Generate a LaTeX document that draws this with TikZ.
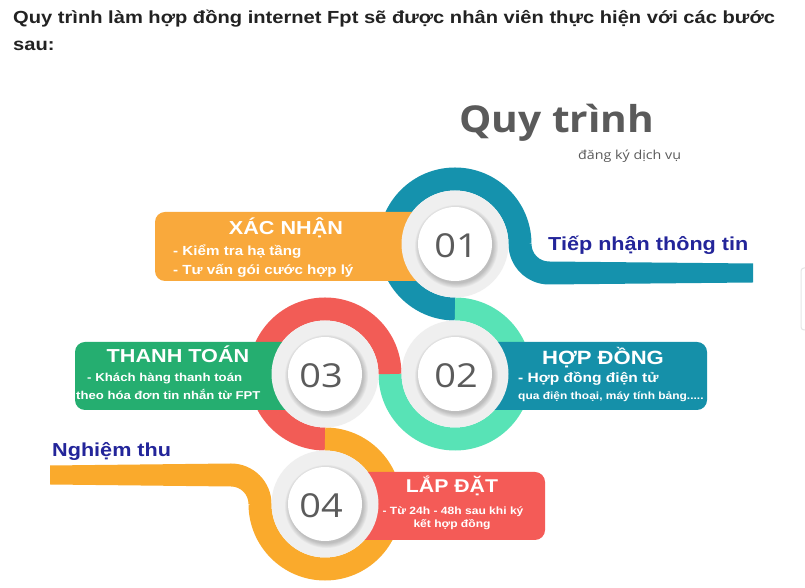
\documentclass[tikz,border=0pt]{standalone}
\usepackage{fontspec}
\setmainfont{Liberation Sans}[FakeStretch=1.15]
\newfontfamily\osans{Open Sans}[FakeStretch=1.15]
\newfontfamily\otitle{Open Sans}[FakeStretch=1.10]
\usetikzlibrary{calc}
\definecolor{tealc}{HTML}{1592AD}
\definecolor{mintc}{HTML}{58E3B6}
\definecolor{redc}{HTML}{F25C56}
\definecolor{orc}{HTML}{FAAA2C}
\definecolor{boxor}{HTML}{F9A93C}
\definecolor{boxgreen}{HTML}{25AE70}
\definecolor{boxteal}{HTML}{1590A9}
\definecolor{boxred}{HTML}{F45B57}
\definecolor{diskgrey}{HTML}{EFEFEF}
\definecolor{numgrey}{HTML}{5B5B5B}
\definecolor{darkblue}{HTML}{23259A}
\definecolor{titlegrey}{HTML}{5A5A5A}
\definecolor{toptext}{HTML}{222222}
\tikzset{
  ring/.style={line width=23pt, line cap=butt},
  stepbox/.style={rounded corners=10pt},
  boxtitle/.style={text=white, font=\bfseries\fontsize{18.8}{20}\selectfont, anchor=base, inner sep=0pt},
  boxline/.style={text=white, font=\bfseries\fontsize{13.2}{14}\selectfont, anchor=base west, inner sep=0pt},
  stepnum/.style={text=numgrey, font=\osans\fontsize{33}{33}\selectfont, inner sep=0pt},
  bluelabel/.style={text=darkblue, font=\bfseries\fontsize{18.8}{20}\selectfont, anchor=base west, inner sep=0pt},
  toplabel/.style={text=toptext, font=\bfseries\fontsize{17.5}{20}\selectfont, anchor=base west, inner sep=0pt},
}
\newcommand\mkdisk[1]{%
  \fill[diskgrey] (#1) circle (53.5);
  \foreach \k in {0,...,5}{\fill[black, opacity=0.035] ($(#1)+(1.5,-2.5)$) circle (37+\k*0.9);}
  \fill[white] (#1) circle (37);
}
\begin{document}
\begin{tikzpicture}[x=1pt,y=1pt]
\path[use as bounding box] (0,0) rectangle (805,588);
\fill[white] (0,0) rectangle (805,588);

\coordinate (c1) at (455,344);
\coordinate (c2) at (455,214);
\coordinate (c3) at (325,214);
\coordinate (c4) at (325,84);

% snake: teal tail with bend
\fill[tealc] (508.5,344) arc[start angle=180, end angle=270, radius=40.5]
  -- (753,305.5) -- (753,324.5) -- (549,326.5)
  arc[start angle=270, end angle=180, radius=17.5] -- cycle;
% rings
\draw[ring, tealc] ($(c1)+(65,0)$) arc[start angle=0, end angle=270, radius=65];
\draw[ring, mintc] ($(c2)+(0,65)$) arc[start angle=90, end angle=-180, radius=65];
\draw[ring, redc] ($(c3)+(65,0)$) arc[start angle=0, end angle=270, radius=65];
\draw[ring, orc] ($(c4)+(0,65)$) arc[start angle=90, end angle=-180, radius=65];
% orange tail with bend
\fill[orc] (248.5,84) arc[start angle=0, end angle=90, radius=17.5]
  -- (50,103.5) -- (50,122.5) -- (231,124.5)
  arc[start angle=90, end angle=0, radius=40.5] -- cycle;

% boxes
\fill[boxor, stepbox] (155,307) rectangle (440,376);
\fill[boxgreen, stepbox] (75,178) rectangle (310,246);
\fill[boxteal, stepbox] (440,178) rectangle (707,246);
\fill[boxred, stepbox] (340,48) rectangle (545,116);

% disks
\mkdisk{c1}
\mkdisk{c2}
\mkdisk{c3}
\mkdisk{c4}

% numbers
\node[stepnum] (n1) at ($(c1)+(1,-2)$) {01};
\node[stepnum] (n2) at ($(c2)+(1,-2)$) {02};
\node[stepnum] (n3) at ($(c3)+(-4,-2)$) {03};
\node[stepnum] (n4) at ($(c4)+(-4,-2)$) {04};

% box texts
\node[boxtitle] (t1) at (286,353) {XÁC NHẬN};
\node[boxline] (t1a) at (173,332) {- Kiểm tra hạ tầng};
\node[boxline] (t1b) at (173,313) {- Tư vấn gói cước hợp lý};

\node[boxtitle] (t3) at (178,225) {THANH TOÁN};
\node[boxline, font=\bfseries\fontsize{11.5}{13}\selectfont] (t3a) at (87,206) {- Khách hàng thanh toán};
\node[boxline, font=\bfseries\fontsize{11.4}{13}\selectfont] (t3b) at (76,188) {theo hóa đơn tin nhắn từ FPT};

\node[boxtitle, font=\bfseries\fontsize{19.2}{20}\selectfont] (t2) at (603,223) {HỢP ĐỒNG};
\node[boxline, font=\bfseries\fontsize{13.5}{14}\selectfont] (t2a) at (518,205) {- Hợp đồng điện tử};
\node[boxline, font=\bfseries\fontsize{10.4}{12}\selectfont] (t2b) at (518,188) {qua điện thoại, máy tính bảng.....};

\node[boxtitle, font=\bfseries\fontsize{18.5}{20}\selectfont] (t4) at (452,95) {LẮP ĐẶT};
\node[boxline, anchor=base, font=\bfseries\fontsize{10.5}{12}\selectfont] (t4a) at (453,73) {- Từ 24h - 48h sau khi ký};
\node[boxline, anchor=base, font=\bfseries\fontsize{10.5}{12}\selectfont] (t4b) at (452,60) {kết hợp đồng};

% side labels
\node[bluelabel] (lab1) at (548,337) {Tiếp nhận thông tin};
\node[bluelabel] (lab4) at (52,131) {Nghiệm thu};

% title
\node[text=titlegrey, font=\otitle\bfseries\fontsize{37}{38}\selectfont, anchor=base west, inner sep=0pt] (title) at (459,455) {Quy trình};
\node[text=titlegrey, font=\osans\fontsize{12.4}{13}\selectfont, anchor=base west, inner sep=0pt] (subtitle) at (578,428) {đăng ký dịch vụ};

% top text
\node[toplabel] (top1) at (13,564) {Quy trình làm hợp đồng internet Fpt sẽ được nhân viên thực hiện với các bước};
\node[toplabel] (top2) at (13,537) {sau:};

% faint edge element at right
\draw[black!10, line width=1pt, rounded corners=3pt] (812,258) -- (801,258) -- (801,320) -- (812,320);
\end{tikzpicture}
\end{document}
